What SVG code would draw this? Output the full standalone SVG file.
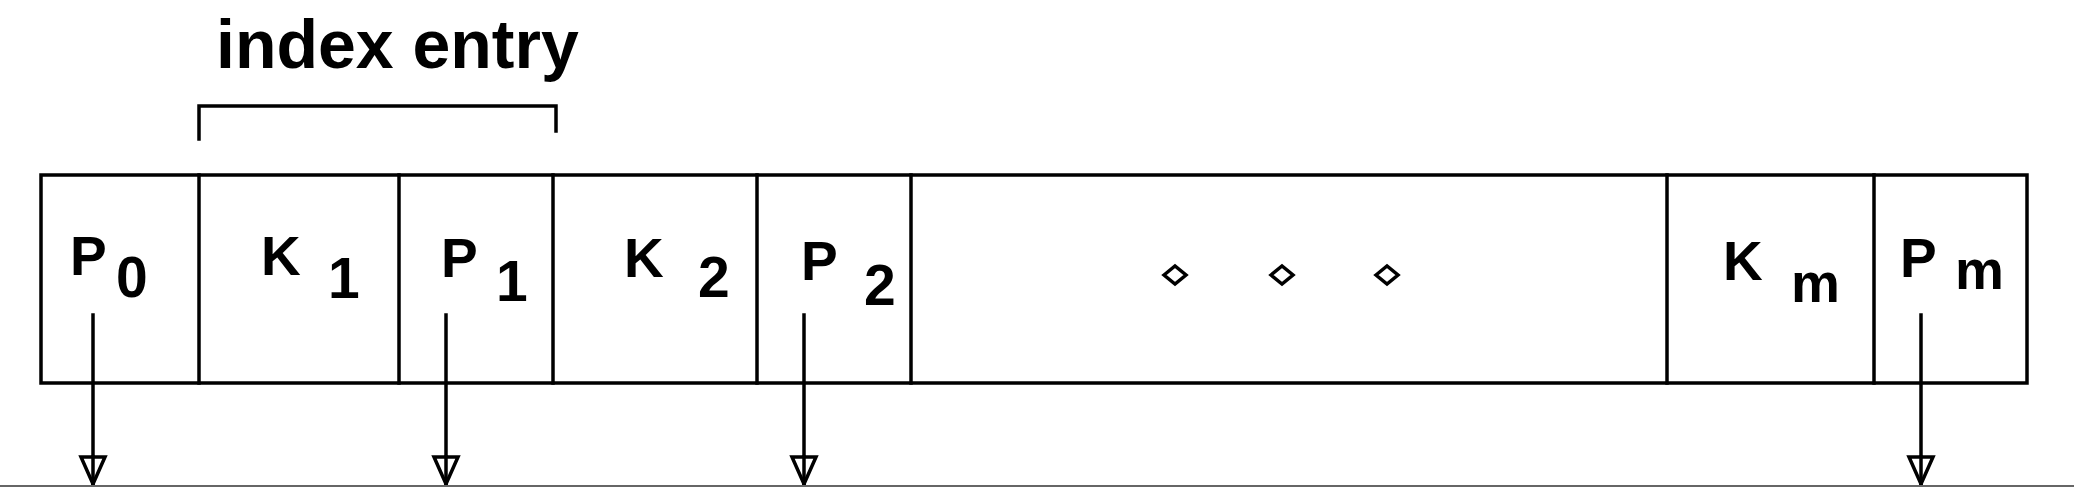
<svg xmlns="http://www.w3.org/2000/svg" width="2074" height="487" viewBox="0 0 2074 487">
<style>
.ln{stroke:#000;stroke-width:3.5;fill:none;stroke-linecap:square}
.t{font-family:"Liberation Sans",Arial,sans-serif;font-weight:bold;fill:#000}
.m{font-size:55px}
.s{font-size:57px}
.dm{stroke:#000;stroke-width:3.5;fill:#fff;stroke-linejoin:miter}
.ah{stroke:#000;stroke-width:3.5;fill:#fff;stroke-linejoin:miter}
</style>
<rect width="2074" height="487" fill="#fff"/>
<g id="title">
<text class="t" x="216" y="68" font-size="68">index entry</text>
<path class="ln" d="M199,139 V106 H556 V131"/>
</g>
<g id="node-frame">
<rect class="ln" x="41" y="175" width="1986" height="208"/>
</g>
<g id="node-P0">
<text class="t m" x="70" y="275">P</text>
<text class="t s" x="116" y="297">0</text>
</g>
<g id="node-K1">
<line class="ln" x1="199" y1="175" x2="199" y2="383"/>
<text class="t m" x="261" y="275">K</text>
<text class="t s" x="328" y="298">1</text>
</g>
<g id="node-P1">
<line class="ln" x1="399" y1="175" x2="399" y2="383"/>
<text class="t m" x="441" y="277">P</text>
<text class="t s" x="496" y="301">1</text>
</g>
<g id="node-K2">
<line class="ln" x1="553" y1="175" x2="553" y2="383"/>
<text class="t m" x="624" y="277">K</text>
<text class="t s" x="698" y="297">2</text>
</g>
<g id="node-P2">
<line class="ln" x1="757" y1="175" x2="757" y2="383"/>
<text class="t m" x="801" y="280">P</text>
<text class="t s" x="864" y="305">2</text>
</g>
<g id="node-dots">
<line class="ln" x1="911" y1="175" x2="911" y2="383"/>
<polygon class="dm" points="1164,275 1175,266 1186,275 1175,284"/>
<polygon class="dm" points="1271,275 1282,266 1293,275 1282,284"/>
<polygon class="dm" points="1376,275 1387,266 1398,275 1387,284"/>
</g>
<g id="node-Km">
<line class="ln" x1="1667" y1="175" x2="1667" y2="383"/>
<text class="t m" x="1723" y="280">K</text>
<text class="t m" x="1791" y="302">m</text>
</g>
<g id="node-Pm">
<line class="ln" x1="1874" y1="175" x2="1874" y2="383"/>
<text class="t m" x="1900" y="277">P</text>
<text class="t m" x="1955" y="289">m</text>
</g>
<g id="connectors">
<g>
<line class="ln" x1="93" y1="315" x2="93" y2="484"/>
<polygon class="ah" points="81,457 105,457 93,484"/>
</g>
<g>
<line class="ln" x1="446" y1="315" x2="446" y2="484"/>
<polygon class="ah" points="434,457 458,457 446,484"/>
<line class="ln" x1="446" y1="457" x2="446" y2="484"/>
</g>
<g>
<line class="ln" x1="804" y1="315" x2="804" y2="484"/>
<polygon class="ah" points="792,457 816,457 804,484"/>
<line class="ln" x1="804" y1="457" x2="804" y2="484"/>
</g>
<g>
<line class="ln" x1="1921" y1="315" x2="1921" y2="484"/>
<polygon class="ah" points="1909,457 1933,457 1921,484"/>
<line class="ln" x1="1921" y1="457" x2="1921" y2="484"/>
</g>
<line class="ln" x1="93" y1="457" x2="93" y2="484"/>
</g>
<line x1="0" y1="486" x2="2074" y2="486" stroke="#666" stroke-width="2"/>
</svg>
